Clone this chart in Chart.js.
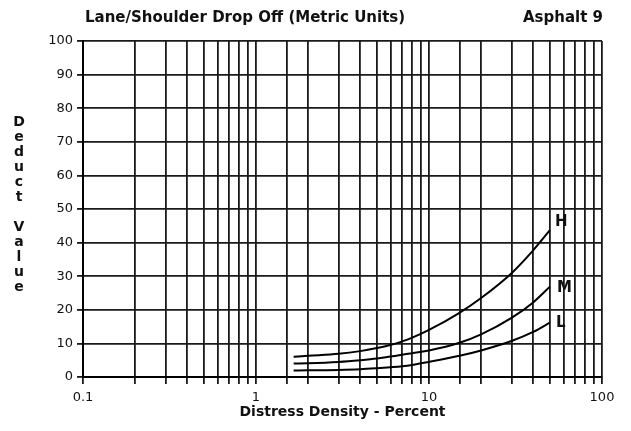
<!DOCTYPE html>
<html>
<head>
<meta charset="utf-8">
<script src="https://cdn.jsdelivr.net/npm/chart.js@4"></script>
<style>
  html, body { margin: 0; padding: 0; background: #fff; }
  #wrap { width: 631px; height: 431px; }
</style>
</head>
<body>
<div id="wrap"><canvas id="chart"></canvas></div>
<script>
const density = [1.65, 2, 3, 4, 5, 6, 7, 8, 10, 15, 20, 30, 40, 50];

// Deduct values for each severity level
const highValues   = [6.0, 6.3, 6.9, 7.7, 8.6, 9.5, 10.6, 11.7, 14.0, 19.1, 23.5, 30.9, 37.7, 43.7];
const mediumValues = [4.0, 4.1, 4.5, 5.0, 5.5, 6.1, 6.6, 7.1, 7.9, 10.2, 12.7, 17.6, 22.2, 26.9];
const lowValues    = [1.9, 2.0, 2.1, 2.3, 2.6, 2.9, 3.2, 3.6, 4.5, 6.3, 7.9, 10.7, 13.4, 16.2];

const severityNames = ["H", "M", "L"];
const xTickLabels = [0.1, 1, 10, 100];

const chartTitle = "Lane/Shoulder Drop Off (Metric Units)";
const chartSubTitle = "Asphalt 9";
const yTitle = "Deduct Value";
const xTitle = "Distress Density - Percent";

const FONT = "'DejaVu Sans', Verdana, sans-serif";
const GRID = "#1a1a1a";

function toPoints(values) {
    return density.map((d, i) => ({ x: d, y: values[i] }));
}

// label offsets next to the end of each curve (style only)
const labelOffsets = { H: [5, -8], M: [7, 1], L: [6, 1] };

const textPlugin = {
    id: "textPlugin",
    afterDraw(chart) {
        const ctx = chart.ctx;
        const area = chart.chartArea;
        ctx.save();
        ctx.fillStyle = "#111";

        // titles on top
        ctx.font = "bold 15px " + FONT;
        ctx.textBaseline = "middle";
        ctx.textAlign = "left";
        ctx.fillText(chartTitle, area.left + 2, 18);
        ctx.textAlign = "right";
        ctx.fillText(chartSubTitle, area.right + 1, 18);

        // stacked vertical y title
        ctx.font = "bold 14px " + FONT;
        ctx.textAlign = "center";
        yTitle.split("").forEach((ch, i) => {
            if (ch !== " ") ctx.fillText(ch, 19, 122 + i * 15);
        });

        // H / M / L next to each curve end
        ctx.font = "bold 15px " + FONT;
        ctx.textAlign = "left";
        chart.data.datasets.forEach((ds, i) => {
            const meta = chart.getDatasetMeta(i);
            const last = meta.data[meta.data.length - 1];
            const off = labelOffsets[ds.label];
            ctx.fillText(ds.label, last.x + off[0], last.y + off[1]);
        });
        ctx.restore();
    }
};

const seriesValues = [highValues, mediumValues, lowValues];

new Chart(document.getElementById("chart"), {
    type: "line",
    data: {
        datasets: severityNames.map((name, i) => ({
            label: name,
            data: toPoints(seriesValues[i]),
            borderColor: "#000",
            borderWidth: 2,
            pointRadius: 0,
            fill: false,
            cubicInterpolationMode: "monotone"
        }))
    },
    options: {
        responsive: true,
        maintainAspectRatio: false,
        animation: false,
        layout: { padding: { left: 0, right: 29, top: 41, bottom: 0 } },
        plugins: {
            legend: { display: false },
            tooltip: { enabled: false }
        },
        scales: {
            x: {
                type: "logarithmic",
                min: 0.1,
                max: 100,
                afterFit(scale) { scale.height = 54; },
                grid: { color: GRID, lineWidth: 1.8, tickLength: 7 },
                border: { color: "#000", width: 2 },
                ticks: {
                    autoSkip: false,
                    maxRotation: 0,
                    padding: 6,
                    color: "#111",
                    font: { family: FONT, size: 13 },
                    callback(value) {
                        const v = Number(value);
                        const hit = xTickLabels.find(t => Math.abs(t - v) < 1e-9 * Math.max(1, t));
                        return hit !== undefined ? String(hit) : "";
                    }
                },
                title: {
                    display: true,
                    text: xTitle,
                    color: "#111",
                    font: { family: FONT, size: 14, weight: "bold" },
                    padding: { top: 4, bottom: 10 }
                }
            },
            y: {
                min: 0,
                max: 100,
                afterFit(scale) { scale.width = 83; },
                grid: { color: GRID, lineWidth: 1.8, tickLength: 6 },
                border: { color: "#000", width: 2 },
                ticks: {
                    stepSize: 10,
                    padding: 4,
                    color: "#111",
                    font: { family: FONT, size: 13 }
                }
            }
        }
    },
    plugins: [textPlugin]
});
</script>
</body>
</html>
